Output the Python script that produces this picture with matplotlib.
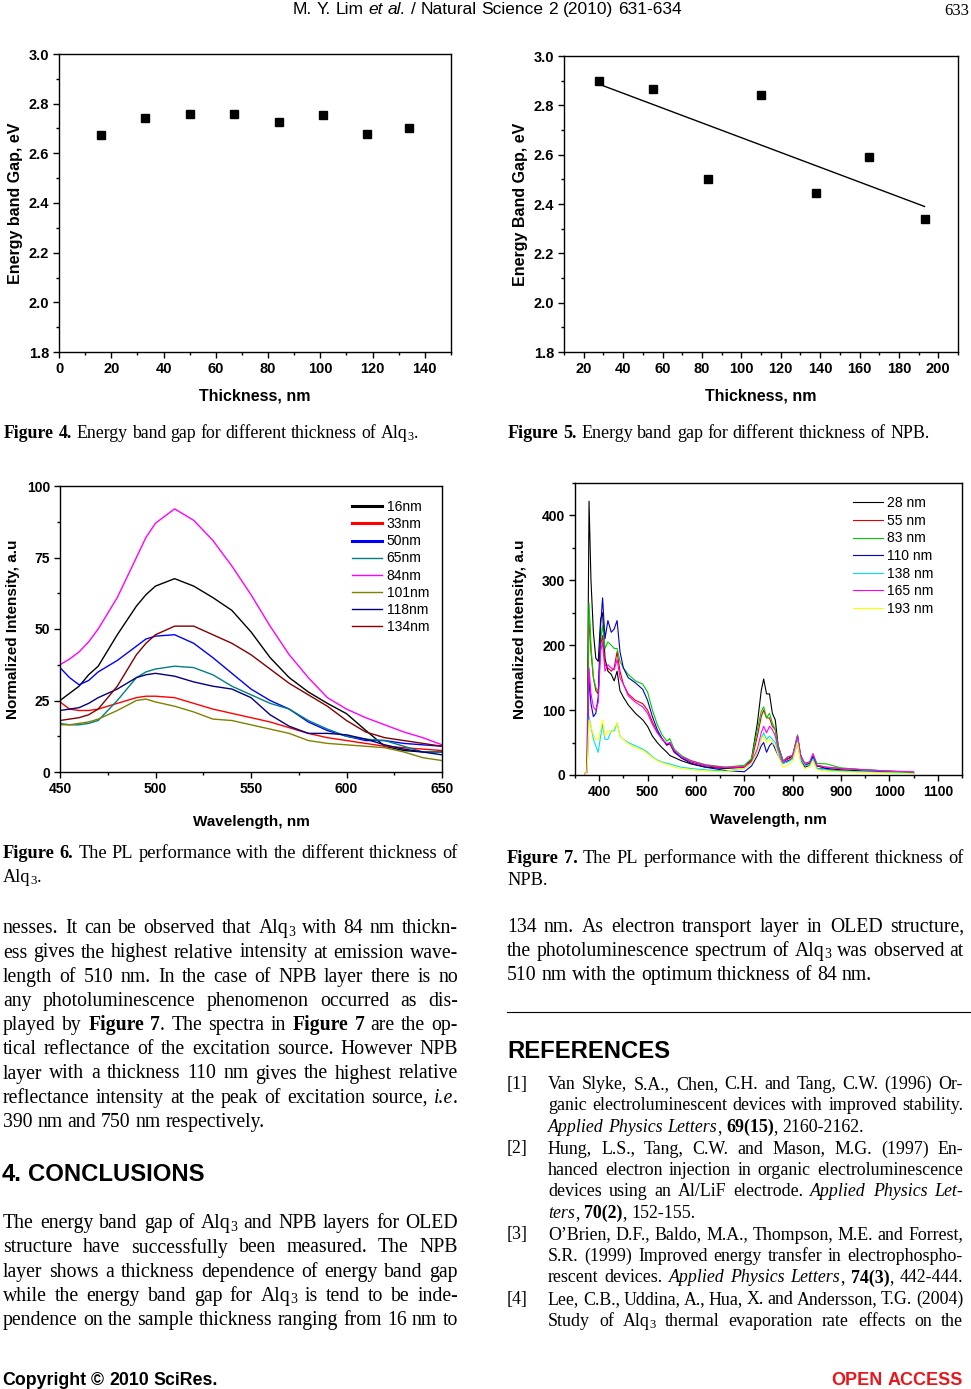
#!/usr/bin/python3

import numpy as np
import matplotlib
matplotlib.use("Agg")
import matplotlib.pyplot as plt
from matplotlib.ticker import MultipleLocator

W, H = 971, 1389

# Figure 4: band gap of Alq3 vs thickness
alq_thick = [16, 33, 50, 67, 84, 101, 118, 134]
alq_gap = [2.675, 2.743, 2.758, 2.758, 2.727, 2.755, 2.678, 2.702]

# Figure 5: band gap of NPB vs thickness, with trend line
npb_thick = [28, 55, 83, 110, 138, 165, 193]
npb_gap = [2.90, 2.865, 2.50, 2.84, 2.443, 2.59, 2.34]
npb_fit_x = [28, 193]
npb_fit_y = [2.885, 2.39]

# Figure 6: PL of Alq3
alq_wl = [450, 455, 460, 465, 470, 480, 490, 495, 500, 510, 520, 530,
          540, 550, 560, 570, 580, 590, 600, 610, 620, 630, 640, 650]
alq_labels = ["16nm", "33nm", "50nm", "65nm", "84nm", "101nm", "118nm", "134nm"]
alq_colors = ["#000000", "#ff0000", "#0000ff", "#008080", "#ff00ff", "#808000", "#000080", "#800000"]
pl_16 = [25, 27.5, 30, 34, 37, 48, 58, 62, 65, 67.6, 65, 61, 56.5, 49, 40, 33, 28, 24, 20.4, 14.6, 9, 7.5, 7, 7]
pl_33 = [24.5, 22, 21.5, 21.5, 22, 24, 26, 26.5, 26.5, 26, 24, 22, 20.5, 19, 17.5, 15.5, 13.5, 12, 11, 10, 9, 8.5, 8, 7.5]
pl_50 = [36.5, 33, 30.5, 32, 35, 39, 44, 46.5, 47.5, 48, 45, 40, 34.5, 29, 25, 22, 17.5, 14.5, 12.5, 11, 11, 10, 9.5, 9]
pl_65 = [17, 16.5, 16.5, 17, 18, 25, 33, 35, 36, 37, 36.5, 34, 30, 27, 24, 22, 18, 15, 12.5, 11.5, 11, 9, 7, 7]
pl_84 = [37.5, 39.5, 42, 45.5, 50, 61, 75, 82, 87, 92, 88, 81, 72, 62, 51, 41, 33, 26, 22, 19, 16.5, 14, 12, 9.5]
pl_101 = [16.5, 16.5, 17, 17.5, 18.5, 21.5, 25, 25.5, 24.5, 23, 21, 18.5, 18, 16.5, 15, 13.5, 11, 10, 9.5, 9, 8.5, 7, 5, 4]
pl_118 = [21.5, 22, 22.5, 24, 26, 29, 33, 34, 34.5, 33.5, 31.5, 30, 29, 26, 20, 16, 13.5, 13.5, 13, 11.5, 9.5, 8, 7, 6]
pl_134 = [18, 18.5, 19, 20, 22, 30, 41, 45, 48, 51, 51, 48, 45, 41, 36, 31, 27, 23, 18, 14, 12, 11, 10, 9]
alq_series = [pl_16, pl_33, pl_50, pl_65, pl_84, pl_101, pl_118, pl_134]

# Figure 7: PL of NPB
npb_wl = [370, 375, 379, 383, 388, 393, 398, 403, 407, 412, 418, 425, 431, 437, 443, 450,
          460, 475, 490, 500, 510, 520, 530, 540, 546, 555, 570, 590, 620, 660, 700, 715,
          727, 735, 740, 746, 752, 758, 764, 770, 780, 790, 800, 810, 816, 825, 835, 842,
          850, 870, 900, 950, 1000, 1050]
npb_labels = ["28 nm", "55 nm", "83 nm", "110 nm", "138 nm", "165 nm", "193 nm"]
npb_colors = ["#000000", "#e00000", "#00cc00", "#0000cc", "#00e0f0", "#ff00ff", "#ffff00"]
r_28 = [2, 5, 422, 300, 220, 180, 175, 240, 250, 180, 160, 155, 145, 160, 130, 120,
        108, 95, 85, 75, 60, 50, 42, 35, 30, 27, 22, 17, 12, 10, 12, 25,
        80, 130, 148, 125, 125, 95, 85, 45, 22, 25, 30, 60, 32, 15, 18, 30,
        14, 10, 8, 6, 5, 3]
r_55 = [2, 5, 250, 190, 150, 130, 125, 200, 215, 170, 165, 160, 165, 190, 160, 140,
        125, 115, 110, 100, 82, 66, 56, 46, 48, 35, 27, 20, 14, 11, 12, 22,
        60, 90, 100, 88, 88, 75, 70, 42, 20, 25, 27, 60, 30, 16, 18, 30,
        15, 12, 10, 8, 6, 4]
r_83 = [2, 5, 265, 200, 150, 135, 128, 210, 230, 195, 205, 200, 195, 195, 175, 165,
        155, 145, 140, 128, 100, 78, 62, 52, 56, 40, 30, 22, 16, 12, 15, 25,
        70, 98, 105, 88, 95, 80, 70, 45, 22, 28, 30, 62, 30, 18, 20, 32,
        18, 17, 11, 8, 6, 4]
r_110 = [2, 5, 150, 110, 90, 95, 120, 230, 273, 210, 238, 220, 225, 238, 190, 165,
         150, 142, 132, 115, 90, 70, 56, 46, 50, 36, 26, 18, 12, 7, 5, 14,
         30, 45, 50, 35, 45, 50, 40, 30, 18, 22, 25, 50, 25, 12, 15, 28,
         10, 9, 6, 5, 4, 3]
r_138 = [2, 5, 90, 75, 55, 45, 35, 60, 78, 55, 55, 68, 68, 80, 60, 55,
         50, 45, 40, 35, 28, 23, 20, 18, 17, 15, 12, 10, 8, 6, 10, 18,
         35, 55, 65, 55, 60, 55, 50, 35, 18, 20, 25, 55, 25, 15, 15, 25,
         10, 8, 6, 5, 4, 3]
r_165 = [2, 5, 165, 125, 105, 100, 112, 190, 205, 160, 170, 165, 162, 178, 150, 140,
         122, 112, 105, 95, 78, 65, 55, 48, 50, 38, 28, 22, 15, 12, 13, 20,
         40, 65, 75, 65, 75, 70, 60, 40, 20, 28, 30, 60, 30, 18, 20, 33,
         15, 12, 10, 8, 6, 5]
r_193 = [2, 5, 85, 75, 62, 55, 55, 70, 85, 60, 68, 65, 72, 80, 60, 55,
         48, 42, 38, 33, 27, 22, 19, 16, 15, 12, 10, 8, 6, 5, 10, 18,
         35, 55, 60, 50, 55, 50, 45, 30, 12, 15, 22, 50, 20, 10, 12, 22,
         8, 6, 5, 4, 3, 2]
npb_series = [r_28, r_55, r_83, r_110, r_138, r_165, r_193]

plt.rcParams["font.family"] = "Liberation Sans"
plt.rcParams["font.weight"] = "bold"
plt.rcParams["axes.labelweight"] = "bold"
plt.rcParams["axes.linewidth"] = 1.0

fig = plt.figure(figsize=(W / 100, H / 100), dpi=100)
rend = fig.canvas.get_renderer()


def px_axes(l, t, r, b):
    return fig.add_axes([l / W, 1 - b / H, (r - l) / W, (b - t) / H])


def style(ax, xmaj, xmin, ymaj, ymin, size=10):
    ax.xaxis.set_major_locator(MultipleLocator(xmaj))
    ax.xaxis.set_minor_locator(MultipleLocator(xmin))
    ax.yaxis.set_major_locator(MultipleLocator(ymaj))
    ax.yaxis.set_minor_locator(MultipleLocator(ymin))
    ax.tick_params(which="both", direction="out", top=False, right=False, width=1)
    ax.tick_params(which="major", length=4, labelsize=size, pad=3)
    ax.tick_params(which="minor", length=2.5)


# ---- Figure 4
ax = px_axes(59, 54, 451, 352)
ax.plot(alq_thick, alq_gap, "s", color="black", ms=5.5)
ax.set_xlim(0, 150)
ax.set_ylim(1.8, 3.0)
style(ax, 20, 10, 0.2, 0.1, size=10.5)
ax.set_xlabel("Thickness, nm", fontsize=11.5, labelpad=9)
ax.set_ylabel("Energy band Gap, eV", fontsize=11.5, labelpad=4)

# ---- Figure 5
ax = px_axes(564, 56, 958, 352)
ax.plot(npb_thick, npb_gap, "s", color="black", ms=5.5)
ax.plot(npb_fit_x, npb_fit_y, color="black", lw=1.0)
ax.set_xlim(10, 210)
ax.set_ylim(1.8, 3.0)
style(ax, 20, 10, 0.2, 0.1, size=10.5)
ax.set_xlabel("Thickness, nm", fontsize=11.5, labelpad=9)
ax.set_ylabel("Energy Band Gap, eV", fontsize=11.5, labelpad=4)

# ---- Figure 6
ax = px_axes(60, 486, 442, 772)
for ys, lab, c in zip(alq_series, alq_labels, alq_colors):
    ax.plot(alq_wl, ys, color=c, lw=1.0, label=lab)
ax.set_xlim(450, 650)
ax.set_ylim(0, 100)
style(ax, 50, 25, 25, 12.5, size=10)
ax.set_xlabel("Wavelength, nm", fontsize=11, labelpad=14)
ax.set_ylabel("Normalized Intensity, a.u", fontsize=11, labelpad=5)
leg = ax.legend(frameon=False, loc="upper left", bbox_to_anchor=(0.764, 0.95),
                prop={"size": 10, "weight": "normal"}, handlelength=2.2,
                handletextpad=0.3, labelspacing=0.22, borderpad=0, borderaxespad=0)
for h in leg.get_lines()[:3]:
    h.set_linewidth(2.2)

# ---- Figure 7
ax = px_axes(575, 483, 962, 775)
for ys, lab, c in zip(npb_series, npb_labels, npb_colors):
    ax.plot(npb_wl, ys, color=c, lw=0.8, label=lab)
ax.set_xlim(350, 1150)
ax.set_ylim(0, 450)
style(ax, 100, 50, 100, 50, size=10)
ax.set_xlabel("Wavelength, nm", fontsize=11, labelpad=10)
ax.set_ylabel("Normalized Intensity, a.u", fontsize=11, labelpad=11)
ax.legend(frameon=False, loc="upper left", bbox_to_anchor=(0.718, 0.955),
          prop={"size": 10, "weight": "normal"}, handlelength=2.15,
          handletextpad=0.3, labelspacing=0.26, borderpad=0, borderaxespad=0)


# ---- page text: '*' toggles bold, '~' toggles italic, '_x' is a subscript char
def words_of(line, state):
    out = []
    for w in line.split(" "):
        pieces, buf, i = [], "", 0
        while i < len(w):
            c = w[i]
            if c in "*~_":
                if buf:
                    pieces.append((buf, state["b"], state["i"], False))
                    buf = ""
                if c == "*":
                    state["b"] = not state["b"]
                elif c == "~":
                    state["i"] = not state["i"]
                else:
                    i += 1
                    pieces.append((w[i], state["b"], state["i"], True))
            else:
                buf += c
            i += 1
        if buf:
            pieces.append((buf, state["b"], state["i"], False))
        out.append(pieces)
    return out


def write(x, y, line, size, family="Liberation Serif", width=None, ha="left",
          color="black", bold=False, space_em=0.25):
    state = {"b": bold, "i": False}
    groups = []
    for pieces in words_of(line, state):
        grp = []
        for s, b, it, sub in pieces:
            t = fig.text(0, 0, s, fontsize=size * 0.7 if sub else size, family=family,
                         weight="bold" if b else "normal",
                         style="italic" if it else "normal", color=color, va="baseline")
            grp.append((t, t.get_window_extent(rend).width, sub))
        groups.append(grp)
    widths = [sum(g[1] for g in grp) for grp in groups]
    space = space_em * size * 100 / 72
    if width is not None and len(groups) > 1:
        space = (width - sum(widths)) / (len(groups) - 1)
    total = sum(widths) + space * (len(groups) - 1)
    if ha == "right":
        x -= total
    elif ha == "center":
        x -= total / 2
    cx = x
    for grp in groups:
        for t, w, sub in grp:
            dy = 0.12 * size * 100 / 72 if sub else 0
            t.set_position((cx / W, 1 - (y + dy) / H))
            cx += w
        cx += space


# header
write(487, 14, "M. Y. Lim ~et al.~ / Natural Science 2 (2010) 631-634", 12.5,
      family="Liberation Sans", ha="center", space_em=0.278)
write(969, 15, "633", 12, ha="right")

# captions of figures 4 and 5
write(4, 438, "*Figure 4.* Energy band gap for different thickness of Alq_3.", 12.8)
write(508, 438, "*Figure 5.* Energy band gap for different thickness of NPB.", 13)

# left column
LX, LW = 3, 455
BODY = 14.2
CAP = 13.2
write(LX, 858, "*Figure 6.* The PL performance with the different thickness of", CAP, width=LW)
write(LX, 881.7, "Alq_3.", CAP)
left_lines = [
    "nesses. It can be observed that Alq_3 with 84 nm thickn-",
    "ess gives the highest relative intensity at emission wave-",
    "length of 510 nm. In the case of NPB layer there is no",
    "any photoluminescence phenomenon occurred as dis-",
    "played by *Figure 7*. The spectra in *Figure 7* are the op-",
    "tical reflectance of the excitation source. However NPB",
    "layer with a thickness 110 nm gives the highest relative",
    "reflectance intensity at the peak of excitation source, ~i.e~.",
]
for k, s in enumerate(left_lines):
    write(LX, 933.3 + 24.2 * k, s, BODY, width=LW)
write(LX, 933.3 + 24.2 * 8, "390 nm and 750 nm respectively.", BODY)

write(2, 1180.7, "4. CONCLUSIONS", 17.2, family="Liberation Sans", bold=True)
concl = [
    "The energy band gap of Alq_3 and NPB layers for OLED",
    "structure have successfully been measured. The NPB",
    "layer shows a thickness dependence of energy band gap",
    "while the energy band gap for Alq_3 is tend to be inde-",
    "pendence on the sample thickness ranging from 16 nm to",
]
for k, s in enumerate(concl):
    write(LX, 1228.3 + 24.2 * k, s, BODY, width=LW)

# right column
RX, RW = 507, 457
write(RX, 862.7, "*Figure 7.* The PL performance with the different thickness of", CAP, width=RW)
write(RX, 885, "NPB.", CAP)
write(RX, 931.7, "134 nm. As electron transport layer in OLED structure,", BODY, width=RW)
write(RX, 955.9, "the photoluminescence spectrum of Alq_3 was observed at", BODY, width=RW)
write(RX, 980.1, "510 nm with the optimum thickness of 84 nm.", BODY)
fig.add_artist(plt.Line2D([RX / W, 1.0], [1 - 1012.3 / H] * 2, color="black", lw=0.8))
write(RX, 1058.3, "REFERENCES", 17.2, family="Liberation Sans", bold=True)

REF = 12.9
refs = [
    ("[1]", "Van Slyke, S.A., Chen, C.H. and Tang, C.W. (1996) Or-", True),
    ("", "ganic electroluminescent devices with improved stability.", True),
    ("", "~Applied Physics Letters~, *69(15)*, 2160-2162.", False),
    ("[2]", "Hung, L.S., Tang, C.W. and Mason, M.G. (1997) En-", True),
    ("", "hanced electron injection in organic electroluminescence", True),
    ("", "devices using an Al/LiF electrode. ~Applied Physics Let-~", True),
    ("", "~ters~, *70(2)*, 152-155.", False),
    ("[3]", "O\u2019Brien, D.F., Baldo, M.A., Thompson, M.E. and Forrest,", True),
    ("", "S.R. (1999) Improved energy transfer in electrophospho-", True),
    ("", "rescent devices. ~Applied Physics Letters~, *74(3)*, 442-444.", True),
    ("[4]", "Lee, C.B., Uddina, A., Hua, X. and Andersson, T.G. (2004)", True),
    ("", "Study of Alq_3 thermal evaporation rate effects on the", True),
]
for k, (num, s, just) in enumerate(refs):
    y = 1089 + 21.5 * k
    if num:
        write(RX, y, num, REF)
    write(548, y, s, REF, width=415 if just else None)

# footer
write(2, 1385, "Copyright \u00a9 2010 SciRes.", 12.8, family="Liberation Sans", bold=True,
      space_em=0.278)
write(963, 1385, "OPEN ACCESS", 13, family="Liberation Sans", bold=True, ha="right",
      color="#e8161b", space_em=0.278)

fig.savefig("out.png", dpi=100)
